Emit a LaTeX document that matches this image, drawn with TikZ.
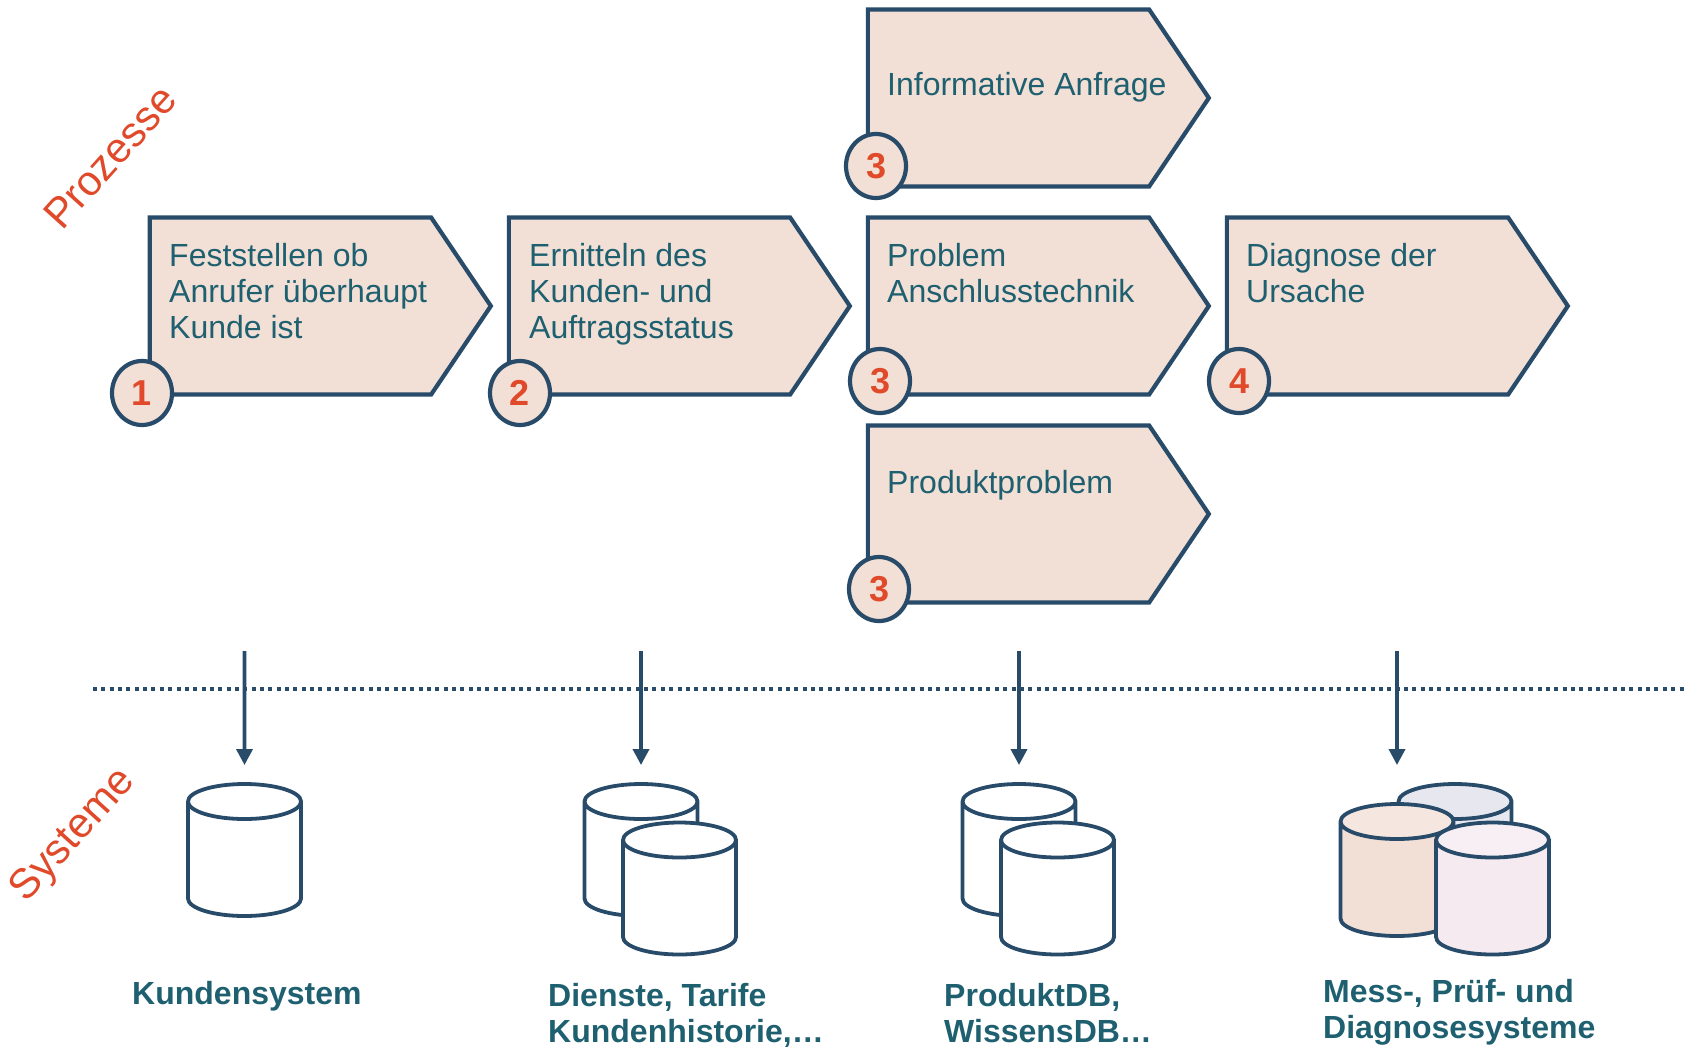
\documentclass[tikz,border=0pt]{standalone}
\usepackage{fontspec}
\setmainfont{Liberation Sans}
\usetikzlibrary{positioning,arrows.meta,shapes.symbols,shapes.geometric}
\definecolor{linecol}{HTML}{274B68}
\definecolor{boxfill}{HTML}{F2DFD5}
\definecolor{boxtop}{HTML}{F5E7DF}
\definecolor{greyfill}{HTML}{E6E7EF}
\definecolor{pinkfill}{HTML}{F4EAF0}
\definecolor{pinktop}{HTML}{F8EFF4}
\definecolor{textcol}{HTML}{1F6070}
\definecolor{redcol}{HTML}{E0492A}
\tikzset{
flow/.style={
    x=1pt,
    y=-1pt,
    node distance=359pt
},
procbox/.style={
    signal,
    signal to=east,
    signal pointer angle=112,
    draw=linecol,
    line width=4.2pt,
    fill=boxfill,
    minimum width=341pt,
    minimum height=177pt,
    inner sep=0pt,
    outer sep=0pt
},
proctext/.style={
    anchor=north west,
    align=left,
    inner sep=0pt,
    text=textcol,
    font=\fontsize{32}{36}\selectfont
},
numdot/.style={
    ellipse,
    draw=linecol,
    line width=4.2pt,
    fill=boxfill,
    minimum width=60pt,
    minimum height=64pt,
    inner sep=0pt,
    text=redcol,
    font=\fontsize{36}{36}\bfseries\selectfont
},
store/.style={
    cylinder,
    anchor=shape center,
    shape border rotate=90,
    aspect=1.75,
    draw=linecol,
    line width=3.8pt,
    fill=white,
    minimum width=113pt,
    minimum height=132pt,
    inner sep=10pt,
    outer sep=0pt
},
storetext/.style={
    anchor=north west,
    align=left,
    inner sep=0pt,
    text=textcol,
    font=\fontsize{32}{36}\bfseries\selectfont
},
side/.style={
    text=redcol,
    rotate=48,
    inner sep=0pt,
    font=\fontsize{42}{42}\selectfont
},
sees/.style={
    -{Triangle[length=16pt,width=16pt]},
    draw=linecol,
    line width=3.6pt
}}
\begin{document}
\begin{tikzpicture}[flow]
\useasboundingbox (0,0) rectangle (1685,1050);

\node[procbox]    (p1)    at (290.5,306)    {};
\node[procbox]    (p2)    [right of = p1]    {};
\node[procbox]    (p3)    [right of = p2]    {};
\node[procbox]    (p4)    [right of = p3]    {};
\node[procbox]    (p3a)   [above of = p3, node distance=208pt]    {};
\node[procbox]    (p3c)   [below of = p3, node distance=208pt]    {};

\node[proctext]   (t1)    at (169,243)    {Feststellen ob\\Anrufer überhaupt\\Kunde ist};
\node[proctext]   (t2)    at (529,243)    {Ernitteln des\\Kunden- und\\Auftragsstatus};
\node[proctext]   (t3)    at (887,243)    {Problem\\Anschlusstechnik};
\node[proctext]   (t4)    at (1246,243)   {Diagnose der\\Ursache};
\node[proctext]   (t3a)   at (887,72)     {Informative Anfrage};
\node[proctext]   (t3c)   at (887,470)    {Produktproblem};

\node[numdot]     (n1)    at (142,393)    {1};
\node[numdot]     (n2)    at (520,393)    {2};
\node[numdot]     (n3)    at (880,381)    {3};
\node[numdot]     (n4)    at (1239,381)   {4};
\node[numdot]     (n3a)   at (876,166)    {3};
\node[numdot]     (n3c)   at (879,589)    {3};

\node[side]       (prozesse)   at (110,157)   {Prozesse};
\node[side]       (systeme)    at (74,836)    {Systeme};

\coordinate       (l1)    at (93,689);
\coordinate       (l2)    at (1685,689);
\draw[linecol, line width=4pt, dash pattern=on 4pt off 4.35pt]    (l1) -- (l2);

% systems
\node[store]      (c1)    at (244.5,850)    {};
\node[store]      (c2)    at (641,850)      {};
\node[store]      (c2b)   at (679.5,888.5)  {};
\node[store]      (c3)    at (1019,850)     {};
\node[store]      (c3b)   at (1057.5,888.5) {};
\node[store, fill=none, cylinder uses custom fill, cylinder body fill=greyfill, cylinder end fill=greyfill]
                  (c4c)   at (1455,850)     {};
\node[store, fill=none, cylinder uses custom fill, cylinder body fill=boxfill, cylinder end fill=boxtop]
                  (c4)    at (1397,870)     {};
\node[store, fill=none, cylinder uses custom fill, cylinder body fill=pinkfill, cylinder end fill=pinktop]
                  (c4b)   at (1492.5,888.5) {};

\node[storetext]  (s1)    at (132,981)    {Kundensystem};
\node[storetext]  (s2)    at (548,983)    {Dienste, Tarife\\Kundenhistorie,…};
\node[storetext]  (s3)    at (944,983)    {ProduktDB,\\WissensDB…};
\node[storetext]  (s4)    at (1323,979)   {Mess-, Prüf- und\\Diagnosesysteme};

\coordinate       (a1)    at (244.5,651);
\coordinate       (a2)    at (641,651);
\coordinate       (a3)    at (1019,651);
\coordinate       (a4)    at (1397,651);

\path    (a1)    edge[sees, shorten >=19pt]    (c1);
\path    (a2)    edge[sees, shorten >=19pt]    (c2);
\path    (a3)    edge[sees, shorten >=19pt]    (c3);
\path    (a4)    edge[sees, shorten >=39pt]    (c4);
\end{tikzpicture}
\end{document}
